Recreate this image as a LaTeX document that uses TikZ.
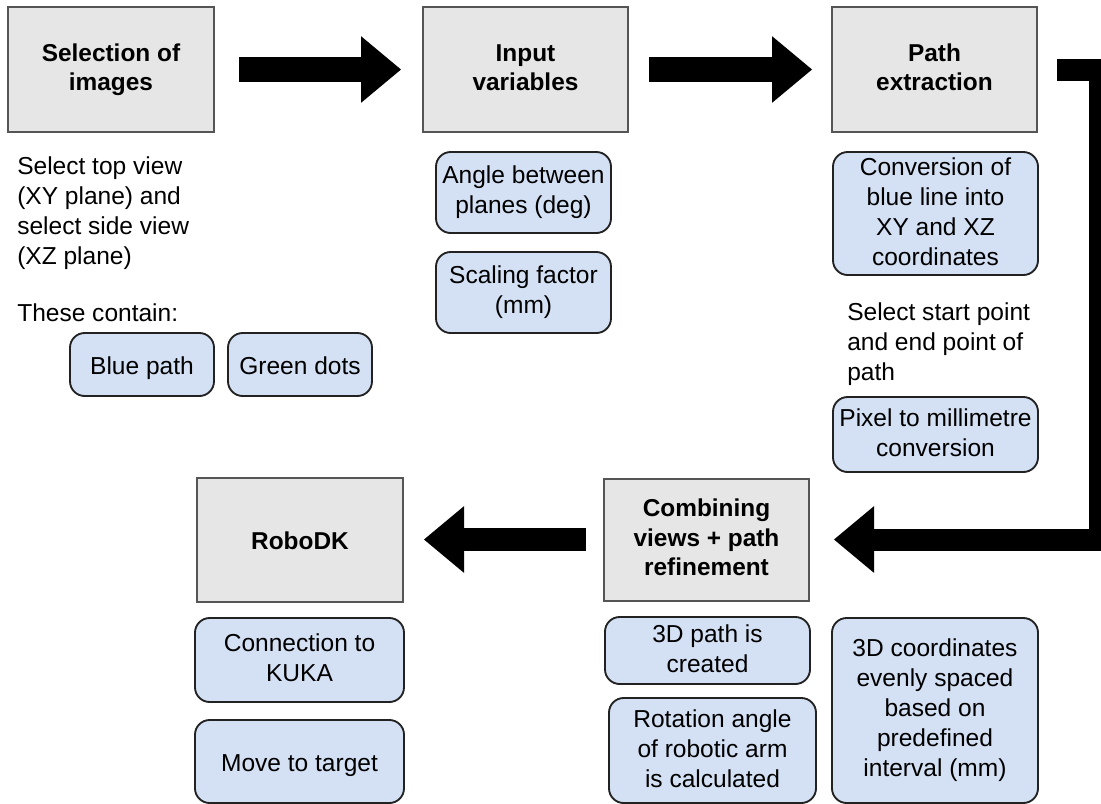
\documentclass[tikz,border=0pt]{standalone}
\usepackage{fontspec}
\setmainfont{Liberation Sans}
\usetikzlibrary{arrows.meta}

\definecolor{stagefill}{HTML}{E6E6E6}
\definecolor{stageline}{HTML}{555555}
\definecolor{taskfill}{HTML}{D4E0F4}
\definecolor{taskline}{HTML}{222222}

\newcommand{\topgap}{\rule{0pt}{19pt}}
\newcommand{\botgap}{\rule[-3.3pt]{0pt}{3.3pt}}

\tikzset{
  txt/.style={font=\fontsize{18.4pt}{22.5pt}\selectfont},
  sz/.style 2 args={minimum width=#1*0.75pt, minimum height=#2*0.75pt},
  boxed/.style={execute at begin node=\topgap, execute at end node=\botgap},
  stage/.style={boxed, font=\fontsize{18.3pt}{22pt}\selectfont\bfseries,
    draw=stageline, fill=stagefill, line width=1.5pt, align=center, inner sep=2pt},
  task/.style={boxed, txt, draw=taskline, fill=taskfill, line width=1.4pt,
    rounded corners=11pt, align=center, inner sep=2pt},
  note/.style={txt, align=left, inner sep=0pt, anchor=north west},
  flow/.style={line join=miter,
    -{Triangle[length=30pt, width=50pt, line width=0pt]}},
}

\begin{document}
\begin{tikzpicture}[x=0.75pt, y=-0.75pt]
\useasboundingbox (0,0) rectangle (1101,804);
\clip (0,0) rectangle (1101,804);

% main stages
\node[stage, sz={206}{125}] (sel)  at (111,69.5)   {Selection of\\images};
\node[stage, sz={205}{125}] (inp)  at (525.5,69.5) {Input\\variables};
\node[stage, sz={205}{125}] (pe)   at (934.5,69.5) {Path\\extraction};
\node[stage, sz={205}{122}] (comb) at (706.5,539.5) {Combining\\views + path\\refinement};
\node[stage, sz={206}{124}] (robo) at (300,539.5)  {RoboDK};

% notes under the first stage
\node[note] (selnote) at (17,156) {Select top view\\(XY plane) and\\select side view\\(XZ plane)};
\node[note] (contain) at (17,303) {These contain:};
\node[task, sz={144}{63}] (bp) at (142,364.5) {Blue path};
\node[task, sz={144}{63}] (gd) at (300,364.5) {Green dots};

% input variables
\node[task, sz={175}{81}] (ang) at (523.5,192.5) {Angle between\\planes (deg)};
\node[task, sz={175}{81}] (scl) at (523.5,292.5) {Scaling factor\\(mm)};

% path extraction
\node[task, sz={205}{123}] (conv) at (935.5,213.5) {Conversion of\\blue line into\\XY and XZ\\coordinates};
\node[note] (startend) at (847,302) {Select start point\\and end point of\\path};
\node[task, sz={205}{75}] (pix) at (935.5,434.5) {Pixel to millimetre\\conversion};

% combining views
\node[task, sz={205}{67}]  (p3d) at (707.5,650.5) {3D path is\\created};
\node[task, sz={207}{105}] (rot) at (712.5,750.5) {Rotation angle\\of robotic arm\\is calculated};
\node[task, sz={206}{185}] (c3d) at (935,710.5) {3D coordinates\\evenly spaced\\based on\\predefined\\interval (mm)};

% RoboDK
\node[task, sz={209}{84}] (kuka) at (299.5,660) {Connection to\\KUKA};
\node[task, sz={209}{83}] (move) at (299.5,761.5) {Move to target};

% block arrows between the stages
\draw[flow, line width=18.75pt, shorten <=18pt, shorten >=15.75pt] (sel.east) -- (inp.west);
\draw[flow, line width=18.75pt, shorten <=15pt, shorten >=14.25pt] (inp.east) -- (pe.west);
\draw[flow, line width=16.5pt, shorten <=14.25pt, shorten >=18pt]
  (pe.east) -- ++(62,0) |- (comb.east);
\draw[flow, line width=17.25pt, shorten <=12.75pt, shorten >=15pt] (comb.west) -- (robo.east);
\end{tikzpicture}
\end{document}
